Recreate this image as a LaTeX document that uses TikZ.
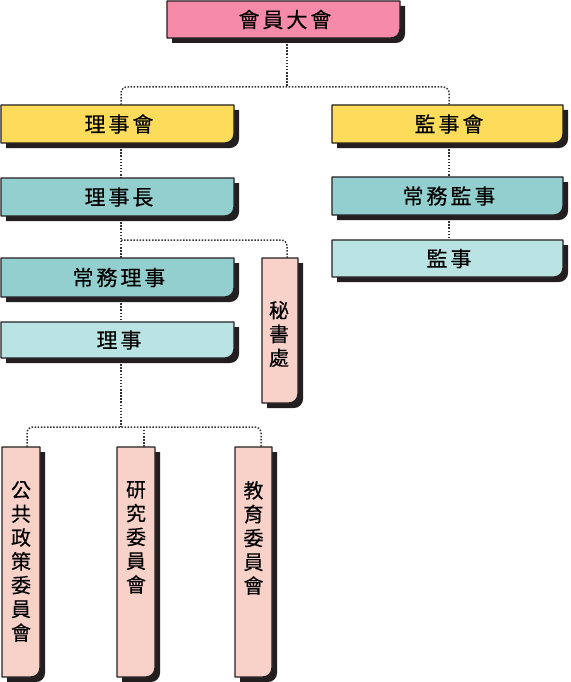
\documentclass[tikz,border=0pt]{standalone}
\usepackage{fontspec}
\newfontfamily\cjk[FakeBold=0.35]{Noto Sans CJK TC}
\usetikzlibrary{calc}
\definecolor{shadowc}{HTML}{231F20}
\definecolor{pinktop}{HTML}{F58BA9}
\definecolor{yel}{HTML}{FDDC5C}
\definecolor{teal}{HTML}{93CFCF}
\definecolor{lteal}{HTML}{BAE4E3}
\definecolor{salmon}{HTML}{F8D1C9}
\definecolor{connc}{HTML}{333333}
\tikzset{
  boxline/.style={draw=shadowc, line width=1.4pt, line join=round},
  boxtext/.style={inner sep=0pt, font=\cjk\fontsize{21}{21}\selectfont\addfontfeature{LetterSpace=14}},
  vtext/.style={inner sep=0pt, align=center, font=\cjk\fontsize{20}{23.8}\selectfont},
  conn/.style={draw=connc, line width=1.5pt, dash pattern=on 1.5pt off 1.6pt, rounded corners=6pt},
}
\newcommand\orgbox[7]{%
  \fill[shadowc] (#2+5,#3+5) -- (#4+5,#3+5) -- (#4+5,#5+5-9) .. controls (#4+5,#5+5-4) and (#4+5-4,#5+5) .. (#4+5-9,#5+5) -- (#2+5,#5+5) -- cycle;
  \draw[boxline, fill=#6] (#2,#3) -- (#4,#3) -- (#4,#5-9) .. controls (#4,#5-4) and (#4-4,#5) .. (#4-9,#5) -- (#2,#5) -- cycle;
  \node[boxtext, minimum width={(#4-#2)*1pt}, minimum height={(#5-#3)*1pt}] (#1) at ({(#2+#4)/2+1.5},{(#3+#5)/2}) {#7};
}
\begin{document}
\begin{tikzpicture}[x=1pt,y=-1pt]
\useasboundingbox (0,0) rectangle (570,682);
\coordinate (jA) at (287,87);
\coordinate (jB) at (121,240);
\coordinate (jC) at (121,427);
% boxes
\orgbox{top}{167}{1}{400}{38}{pinktop}{會員大會}
\orgbox{lsh}{1}{105}{234}{143}{yel}{理事會}
\orgbox{jsh}{332}{105}{563}{143}{yel}{監事會}
\orgbox{lsz}{1}{178}{234}{216}{teal}{理事長}
\orgbox{cwls}{1}{258}{234}{297}{teal}{常務理事}
\orgbox{ls}{1}{322}{234}{358}{lteal}{理事}
\orgbox{cwjs}{332}{177}{563}{215}{teal}{常務監事}
\orgbox{js}{332}{240}{563}{277}{lteal}{監事}
\orgbox{msc}{262}{258}{298}{403}{salmon}{}
\orgbox{ggzc}{2}{447}{40}{677}{salmon}{}
\orgbox{yjwy}{117}{447}{155}{677}{salmon}{}
\orgbox{jywy}{235}{447}{272}{677}{salmon}{}
% vertical texts
\node[vtext] (tmsc) at (279,334) {\fontsize{20}{22}\selectfont 秘\\書\\處};
\node[vtext, anchor=north] (tggzc) at (21,481) {公\\共\\政\\策\\委\\員\\會};
\node[vtext, anchor=north] (tyjwy) at (136,481) {研\\究\\委\\員\\會};
\node[vtext, anchor=north] (tjywy) at (253.5,481) {教\\育\\委\\員\\會};
% connectors
\draw[conn] ($(top.south)+(2,6)$) -- (jA);
\draw[conn] ($(lsh.north)+(2,0)$) |- (jA) -| ($(jsh.north)+(0,0)$);
\draw[conn] ($(lsh.south)+(2,6)$) -- ($(lsz.north)+(2,0)$);
\draw[conn] ($(lsz.south)+(2,6)$) -- ($(cwls.north)+(2,0)$);
\draw[conn] (jB) -| ($(msc.north)+(5.5,0)$);
\draw[conn] ($(cwls.south)+(2,6)$) -- ($(ls.north)+(2,0)$);
\draw[conn] ($(ls.south)+(2,6)$) -- (jC);
\draw[conn] ($(ggzc.north)+(4.5,0)$) |- (jC) -| ($(jywy.north)+(6,0)$);
\draw[conn] ($(yjwy.north)+(6.5,0)$) -- ($(yjwy.north)+(6.5,-20)$);
\draw[conn] ($(jsh.south)+(0,6)$) -- ($(cwjs.north)+(0,0)$);
\draw[conn] ($(cwjs.south)+(0,6)$) -- ($(js.north)+(0,0)$);
\end{tikzpicture}
\end{document}
